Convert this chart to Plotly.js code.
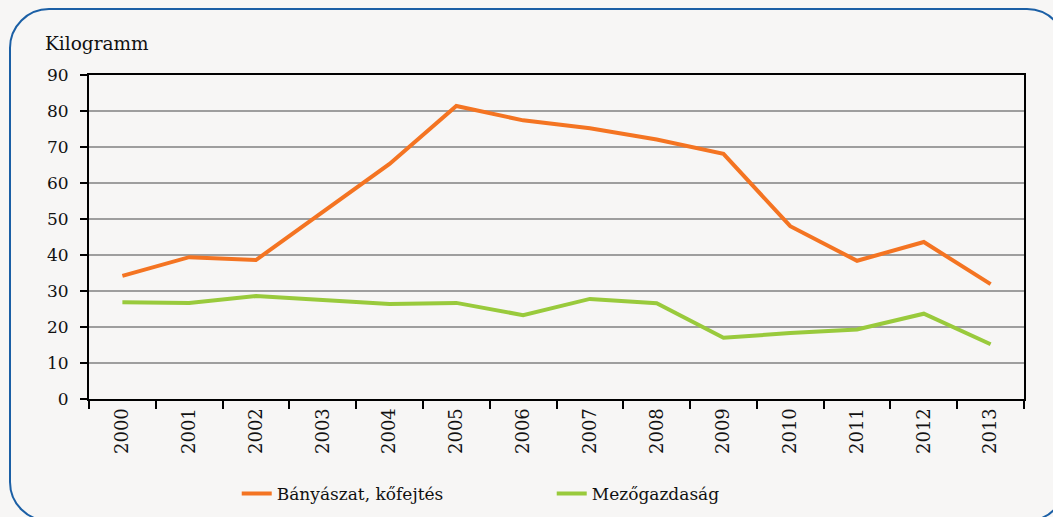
<!DOCTYPE html>
<html>
<head>
<meta charset="utf-8">
<script src="https://cdn.plot.ly/plotly-3.0.1.min.js"></script>
</head>
<body style="margin:0; background:#f7f6f5">
<div style="position:absolute; left:9px; top:8px; width:1054px; height:510px; border:2px solid #1b5fa5; border-radius:40px;"></div>
<div id="chart" style="position:absolute; left:0; top:0;"></div>
<script>
const years = ['2000','2001','2002','2003','2004','2005','2006','2007','2008','2009','2010','2011','2012','2013'];
const banyaszat = [34.2, 39.4, 38.6, 52.0, 65.3, 81.4, 77.4, 75.2, 72.1, 68.1, 48.0, 38.4, 43.6, 31.9];
const mezogazdasag = [26.9, 26.7, 28.6, 27.5, 26.4, 26.7, 23.3, 27.8, 26.6, 17.0, 18.3, 19.3, 23.7, 15.2];
const seriesNames = ['Bányászat, kőfejtés', 'Mezőgazdaság'];
const yTicks = [0, 10, 20, 30, 40, 50, 60, 70, 80, 90];
const unitLabel = 'Kilogramm';

const serifFont = 'DejaVu Serif';

const traces = [
  { x: years, y: banyaszat, name: seriesNames[0], type: 'scatter', mode: 'lines',
    line: { color: '#f47422', width: 4 } },
  { x: years, y: mezogazdasag, name: seriesNames[1], type: 'scatter', mode: 'lines',
    line: { color: '#99ca3c', width: 4 } }
];

const layout = {
  width: 1053, height: 517,
  margin: { l: 89, r: 29, t: 75, b: 118, autoexpand: false },
  paper_bgcolor: 'rgba(0,0,0,0)',
  plot_bgcolor: 'rgba(0,0,0,0)',
  font: { family: serifFont, size: 18, color: '#111' },
  xaxis: {
    type: 'category',
    range: [-0.5, years.length - 0.5],
    automargin: false,
    tickson: 'boundaries',
    ticks: 'outside', ticklen: 8, tickwidth: 2, tickcolor: '#000',
    showline: true, linecolor: '#000', linewidth: 2, mirror: true,
    showgrid: false,
    tickangle: -90,
    tickfont: { family: serifFont, size: 18, color: '#111' }
  },
  yaxis: {
    range: [0, 90],
    automargin: false,
    tickvals: yTicks,
    ticks: 'outside', ticklen: 7, tickwidth: 2, tickcolor: '#000',
    showline: true, linecolor: '#000', linewidth: 2, mirror: true,
    showgrid: true, gridcolor: '#9e9e9e', gridwidth: 1.5,
    zeroline: false,
    ticklabelstandoff: 8,
    tickfont: { family: serifFont, size: 17, color: '#111' }
  },
  showlegend: true,
  legend: {
    orientation: 'h',
    x: 0.158, xanchor: 'left',
    y: -0.293, yanchor: 'middle',
    entrywidth: 270, entrywidthmode: 'pixels',
    bgcolor: 'rgba(0,0,0,0)',
    font: { family: serifFont, size: 17, color: '#111' }
  },
  annotations: [{
    text: unitLabel, xref: 'paper', yref: 'paper',
    x: -0.0492, y: 1.0957, xanchor: 'left', yanchor: 'middle',
    showarrow: false, font: { family: serifFont, size: 18.5, color: '#111' }
  }]
};

Plotly.newPlot('chart', traces, layout, { displayModeBar: false });
</script>
</body>
</html>
